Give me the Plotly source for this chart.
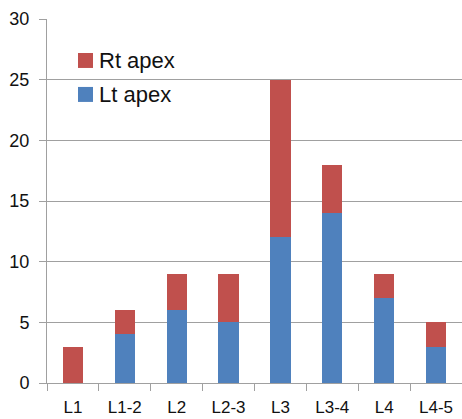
import plotly.graph_objects as go

categories = ["L1", "L1-2", "L2", "L2-3", "L3", "L3-4", "L4", "L4-5"]
lt_apex = [0, 4, 6, 5, 12, 14, 7, 3]
rt_apex = [3, 2, 3, 4, 13, 4, 2, 2]
y_ticks = [0, 5, 10, 15, 20, 25, 30]

BLUE = "#4F81BD"
RED = "#C0504D"
GRID = "#a0a0a0"
FONT = "Liberation Sans, Arial, sans-serif"

fig = go.Figure()
fig.add_trace(go.Bar(x=categories, y=lt_apex, name="Lt apex", marker_color=BLUE,
                     marker_line_width=0, showlegend=False))
fig.add_trace(go.Bar(x=categories, y=rt_apex, name="Rt apex", marker_color=RED,
                     marker_line_width=0, showlegend=False))

# legend drawn as shapes + text
L, R, T, B = 47, 462, 19, 383.3
W, H = R - L, B - T
def px(x):
    return (x - L) / W
def py(y):
    return (B - y) / H

legend_items = [("Rt apex", RED, 53), ("Lt apex", BLUE, 87)]
for label, color, top in legend_items:
    fig.add_shape(type="rect", xref="paper", yref="paper",
                  x0=px(78), x1=px(93), y0=py(top + 15), y1=py(top),
                  fillcolor=color, line_width=0)
    fig.add_annotation(xref="paper", yref="paper", x=px(97), y=py(top + 7.5),
                       text=label, showarrow=False, xanchor="left", yanchor="middle",
                       font=dict(family=FONT, size=22, color="#111111"))

fig.update_layout(
    width=462, height=419,
    margin=dict(l=47, r=0, t=19, b=36),
    barmode="stack", bargap=0.61,
    plot_bgcolor="white", paper_bgcolor="white",
    font=dict(family=FONT, size=18, color="#111111"),
)
fig.update_xaxes(showline=True, linecolor=GRID, linewidth=1, automargin=False,
                 ticks="outside", ticklen=7, tickcolor=GRID, tickson="boundaries",
                 ticklabelstandoff=9, showgrid=False,
                 tickfont=dict(size=17))
fig.update_yaxes(range=[0, 30], tickvals=y_ticks, showline=True, linecolor=GRID,
                 linewidth=1, ticks="outside", ticklen=7, tickcolor=GRID, automargin=False,
                 showgrid=True, gridcolor=GRID, gridwidth=1, zeroline=False,
                 ticklabelstandoff=6, tickfont=dict(size=18))

fig.write_html("out.html", config={"displayModeBar": False})
with open("out.html", "r", encoding="utf-8") as f:
    html = f.read()
html = html.replace("<head>", "<head><style>html,body{margin:0;padding:0;overflow:hidden;}</style>", 1)
with open("out.html", "w", encoding="utf-8") as f:
    f.write(html)
